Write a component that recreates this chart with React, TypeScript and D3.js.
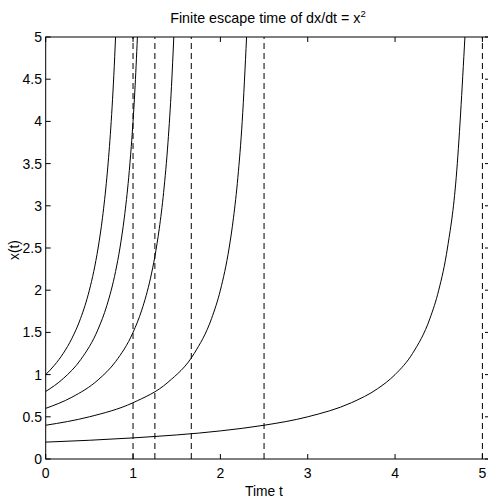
import React from "react";
import * as d3 from "d3";

// Initial values x(0) and the escape times
const initialValues = [1, 0.8, 0.6, 0.4, 0.2];
const escapeTimes = [1, 1.25, 1.667, 2.5, 5];

const curveT1 = [0, 0.1, 0.2, 0.3, 0.4, 0.5, 0.55, 0.6, 0.65, 0.7, 0.72, 0.74, 0.76, 0.78, 0.8];
const curveX1 = [1, 1.111, 1.25, 1.429, 1.667, 2, 2.222, 2.5, 2.857, 3.333, 3.571, 3.846, 4.167, 4.545, 5];

const curveT2 = [0, 0.2, 0.4, 0.6, 0.7, 0.8, 0.85, 0.9, 0.95, 0.98, 1.0, 1.02, 1.05];
const curveX2 = [0.8, 0.952, 1.176, 1.538, 1.818, 2.222, 2.5, 2.857, 3.333, 3.704, 4, 4.348, 5];

const curveT3 = [0, 0.3, 0.6, 0.8, 1.0, 1.1, 1.2, 1.25, 1.3, 1.35, 1.4, 1.44, 1.4667];
const curveX3 = [0.6, 0.732, 0.9375, 1.154, 1.5, 1.765, 2.143, 2.4, 2.727, 3.158, 3.75, 4.412, 5];

const curveT4 = [0, 0.5, 1.0, 1.4, 1.7, 1.9, 2.0, 2.1, 2.15, 2.2, 2.25, 2.3];
const curveX4 = [0.4, 0.5, 0.667, 0.909, 1.25, 1.667, 2, 2.5, 2.857, 3.333, 4, 5];

const curveT5 = [0, 1, 2, 2.5, 3, 3.5, 3.8, 4.0, 4.2, 4.4, 4.5, 4.6, 4.7, 4.8];
const curveX5 = [0.2, 0.25, 0.333, 0.4, 0.5, 0.667, 0.833, 1, 1.25, 1.667, 2, 2.5, 3.333, 5];

const xTicks = [0, 1, 2, 3, 4, 5];
const yTicks = [0, 0.5, 1, 1.5, 2, 2.5, 3, 3.5, 4, 4.5, 5];

const title = "Finite escape time of dx/dt = x";
const xLabel = "Time t";
const yLabel = "x(t)";

export default function App() {
  const W = 488;
  const H = 500;
  const left = 45.7;
  const right = 490;
  const top = 37;
  const bottom = 459;
  const x = d3.scaleLinear().domain([0, 5.087]).range([left, right]);
  const y = d3.scaleLinear().domain([0, 5]).range([bottom, top]);
  const line = d3
    .line<[number, number]>()
    .x((d) => x(d[0]))
    .y((d) => y(d[1]))
    .curve(d3.curveMonotoneX);

  const curves = [
    [curveT1, curveX1],
    [curveT2, curveX2],
    [curveT3, curveX3],
    [curveT4, curveX4],
    [curveT5, curveX5],
  ].map(([ts, xs]) => ts.map((t, i) => [t, xs[i]] as [number, number]));

  const font = "'Liberation Sans', Arial, Helvetica, sans-serif";
  const tickLen = 5;

  return (
    <div style={{ position: "absolute", left: 0, top: 0, width: W, height: H, overflow: "hidden" }}>
      <svg width={W} height={H} style={{ display: "block", background: "#fff" }} fontFamily={font}>
        <rect x={0} y={0} width={W} height={H} fill="#fff" />
        {/* dashed escape-time lines */}
        {escapeTimes.map((t, i) => (
          <line
            key={"d" + i}
            x1={x(t)}
            x2={x(t)}
            y1={y(0)}
            y2={y(5)}
            stroke="#000"
            strokeWidth={1}
            strokeDasharray="6,4"
          />
        ))}
        {/* curves */}
        {curves.map((pts, i) => (
          <path
            key={"c" + i}
            d={line(pts) || ""}
            fill="none"
            stroke="#000"
            strokeWidth={1}
            data-x0={initialValues[i]}
          />
        ))}
        {/* box */}
        <rect
          x={left}
          y={top}
          width={right - left}
          height={bottom - top}
          fill="none"
          stroke="#000"
          strokeWidth={1}
        />
        {/* x ticks */}
        {xTicks.map((t) => (
          <g key={"xt" + t}>
            <line x1={x(t)} x2={x(t)} y1={bottom} y2={bottom - tickLen} stroke="#000" />
            <line x1={x(t)} x2={x(t)} y1={top} y2={top + tickLen} stroke="#000" />
            <text x={x(t)} y={478} fontSize={14} textAnchor="middle" fill="#000">
              {t}
            </text>
          </g>
        ))}
        {/* y ticks */}
        {yTicks.map((v) => (
          <g key={"yt" + v}>
            <line x1={left} x2={left + tickLen} y1={y(v)} y2={y(v)} stroke="#000" />
            <line x1={right} x2={right - tickLen} y1={y(v)} y2={y(v)} stroke="#000" />
            <text x={42} y={y(v) + 5} fontSize={14} textAnchor="end" fill="#000">
              {v}
            </text>
          </g>
        ))}
        {/* labels */}
        <text x={264} y={495.5} fontSize={13.8} textAnchor="middle" fill="#000">
          {xLabel}
        </text>
        <text
          transform={`translate(19,250) rotate(-90)`}
          fontSize={13.8}
          textAnchor="middle"
          fill="#000"
        >
          {yLabel}
        </text>
        <text x={268} y={23} fontSize={14.3} textAnchor="middle" fill="#000">
          {title}
          <tspan dy={-6} fontSize={9.5}>
            2
          </tspan>
        </text>
      </svg>
    </div>
  );
}
